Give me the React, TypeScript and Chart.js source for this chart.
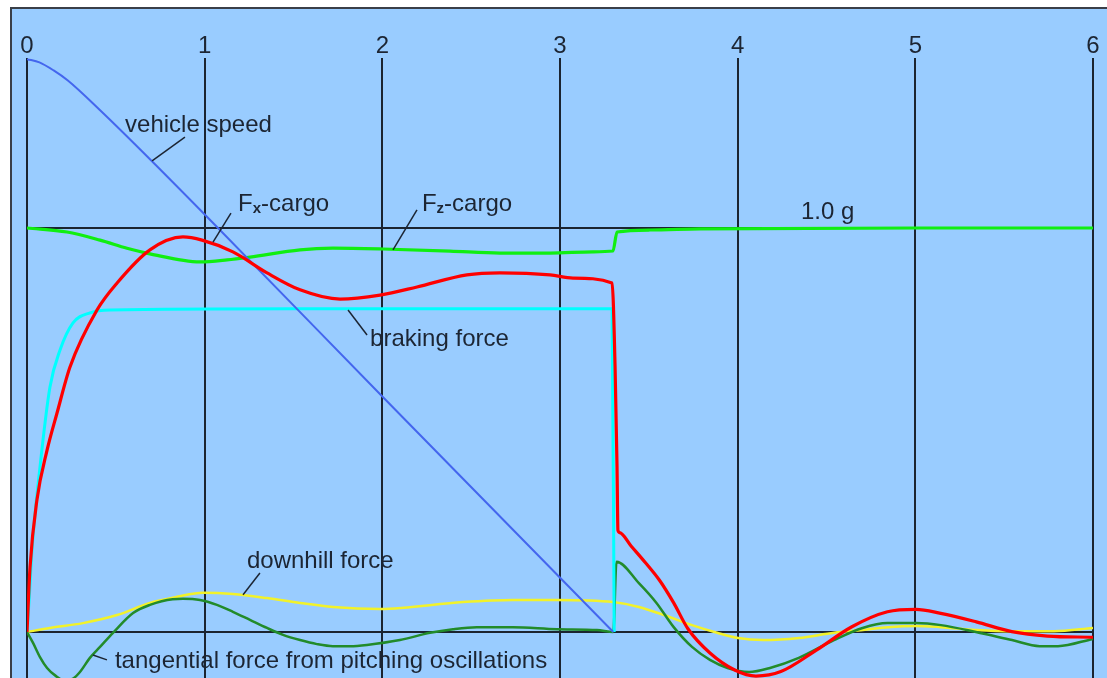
import React, { useEffect, useRef } from "react";
import { Chart, registerables } from "chart.js";

Chart.register(...registerables);

// ---- data (time in s, value in g) ----
const tickLabels = ["0", "1", "2", "3", "4", "5", "6"];
const refLines = [0, 1];

const speedT = [0, 0.07, 0.15, 0.23, 0.41, 0.64, 1.075, 2, 3.3];
const speedV = [1.418, 1.41, 1.39, 1.365, 1.292, 1.193, 1.0, 0.583, 0];

const brakeT = [0, 0.012, 0.028, 0.073, 0.129, 0.186, 0.259, 0.355, 0.467, 1.5, 3.293, 3.305];
const brakeV = [0, 0.08, 0.203, 0.408, 0.606, 0.698, 0.765, 0.79, 0.797, 0.8, 0.8, 0];

const fxT = [0, 0.017, 0.056, 0.113, 0.169, 0.242, 0.394, 0.507, 0.692, 0.878, 0.985, 1.159, 1.351, 1.537, 1.762, 1.987, 2.195, 2.476, 2.662, 2.944, 3.073, 3.293, 3.31, 3.321, 3.326, 3.336, 3.4, 3.48, 3.56, 3.64, 3.72, 3.844, 3.983, 4.103, 4.243, 4.443, 4.643, 4.843, 5.003, 5.143, 5.343, 5.543, 5.743, 6.0];
const fxV = [0, 0.16, 0.327, 0.45, 0.542, 0.656, 0.797, 0.864, 0.946, 0.978, 0.97, 0.941, 0.889, 0.847, 0.824, 0.834, 0.854, 0.884, 0.889, 0.884, 0.876, 0.864, 0.656, 0.408, 0.252, 0.246, 0.213, 0.172, 0.128, 0.072, 0.008, -0.052, -0.094, -0.109, -0.098, -0.045, 0.013, 0.05, 0.056, 0.046, 0.025, 0.001, -0.01, -0.013];

const fzT = [0, 0.225, 0.411, 0.563, 0.692, 0.974, 1.126, 1.255, 1.537, 1.722, 2.004, 2.381, 2.662, 2.944, 3.186, 3.298, 3.321, 3.506, 3.788, 5, 6];
const fzV = [1.0, 0.99, 0.97, 0.95, 0.936, 0.916, 0.921, 0.928, 0.946, 0.95, 0.948, 0.943, 0.938, 0.938, 0.941, 0.943, 0.99, 0.995, 0.998, 1.0, 1.0];

const downT = [0, 0.129, 0.315, 0.507, 0.692, 0.844, 0.991, 1.159, 1.351, 1.537, 1.722, 1.987, 2.454, 2.735, 2.983, 3.298, 3.444, 3.585, 3.743, 3.884, 4.002, 4.142, 4.345, 4.542, 4.705, 4.846, 5.004, 5.144, 5.341, 5.544, 5.78, 6.0];
const downV = [0, 0.01, 0.022, 0.042, 0.072, 0.087, 0.097, 0.094, 0.084, 0.072, 0.062, 0.057, 0.074, 0.079, 0.079, 0.074, 0.062, 0.042, 0.017, -0.002, -0.015, -0.02, -0.015, -0.002, 0.005, 0.012, 0.015, 0.012, 0.005, 0.002, 0.002, 0.01];

const pitchT = [0, 0.034, 0.073, 0.113, 0.16, 0.21, 0.26, 0.298, 0.354, 0.411, 0.484, 0.597, 0.692, 0.82, 0.878, 0.974, 1.069, 1.159, 1.255, 1.351, 1.441, 1.537, 1.632, 1.722, 1.818, 1.913, 2.099, 2.268, 2.398, 2.532, 2.735, 2.983, 3.208, 3.3, 3.318, 3.444, 3.543, 3.64, 3.743, 3.844, 3.943, 4.064, 4.182, 4.344, 4.542, 4.703, 4.843, 5.004, 5.144, 5.341, 5.544, 5.7, 5.803, 6.0];
const pitchV = [0, -0.027, -0.062, -0.089, -0.108, -0.12, -0.115, -0.099, -0.064, -0.037, -0.002, 0.047, 0.067, 0.081, 0.082, 0.079, 0.067, 0.05, 0.03, 0.01, -0.007, -0.02, -0.03, -0.035, -0.035, -0.032, -0.02, -0.002, 0.007, 0.012, 0.012, 0.007, 0.005, 0, 0.174, 0.121, 0.072, 0.012, -0.037, -0.069, -0.089, -0.099, -0.089, -0.064, -0.02, 0.01, 0.022, 0.022, 0.017, 0, -0.02, -0.035, -0.035, -0.017];

// ---- labels (anchored in data coordinates) ----
type Part = { t: string; sub?: boolean };
const notes: { parts: Part[]; x: number; y: number; leader?: number[][] }[] = [
  { parts: [{ t: "vehicle speed" }], x: 0.552, y: 1.257, leader: [[0.704, 1.166], [0.889, 1.225]] },
  { parts: [{ t: "F" }, { t: "x", sub: true }, { t: "-cargo" }], x: 1.188, y: 1.061, leader: [[1.047, 0.965], [1.148, 1.037]] },
  { parts: [{ t: "F" }, { t: "z", sub: true }, { t: "-cargo" }], x: 2.223, y: 1.061, leader: [[2.06, 0.946], [2.195, 1.045]] },
  { parts: [{ t: "1.0 g" }], x: 4.356, y: 1.042 },
  { parts: [{ t: "braking force" }], x: 1.931, y: 0.728, leader: [[1.807, 0.797], [1.914, 0.735]] },
  { parts: [{ t: "downhill force" }], x: 1.238, y: 0.178, leader: [[1.311, 0.146], [1.216, 0.092]] },
  { parts: [{ t: "tangential force from pitching oscillations" }], x: 0.495, y: -0.069, leader: [[0.371, -0.057], [0.45, -0.069]] },
];

const TEXT = "#1c2533";
const FONT = '"Liberation Sans", Arial, sans-serif';

const pts = (t: number[], v: number[]) => t.map((x, i) => ({ x, y: v[i] }));

const notesPlugin = {
  id: "notes",
  afterDatasetsDraw(chart: any) {
    const { ctx, scales } = chart;
    const xs = scales.x;
    const ys = scales.y;
    ctx.save();
    ctx.strokeStyle = TEXT;
    ctx.fillStyle = TEXT;
    ctx.lineWidth = 1.5;
    for (const n of notes) {
      if (n.leader) {
        ctx.beginPath();
        n.leader.forEach((p, i) => {
          const px = xs.getPixelForValue(p[0]);
          const py = ys.getPixelForValue(p[1]);
          if (i === 0) ctx.moveTo(px, py);
          else ctx.lineTo(px, py);
        });
        ctx.stroke();
      }
      let px = xs.getPixelForValue(n.x);
      const py = ys.getPixelForValue(n.y);
      ctx.textAlign = "left";
      ctx.textBaseline = "alphabetic";
      for (const p of n.parts) {
        ctx.font = p.sub ? `bold 15px ${FONT}` : `24px ${FONT}`;
        ctx.fillText(p.t, px, py + (p.sub ? 10 : 8));
        px += ctx.measureText(p.t).width;
      }
    }
    ctx.restore();
  },
};

export default function App() {
  const ref = useRef<HTMLCanvasElement | null>(null);
  useEffect(() => {
    if (!ref.current) return;
    const common = { pointRadius: 0, borderJoinStyle: "round", cubicInterpolationMode: "monotone", fill: false };
    const chart = new Chart(ref.current, {
      type: "line",
      data: {
        datasets: [
          { label: "Fx-cargo", data: pts(fxT, fxV), borderColor: "#ff0000", borderWidth: 3.2, order: 1, ...common },
          { label: "vehicle speed", data: pts(speedT, speedV), borderColor: "#4466ee", borderWidth: 2, order: 2, ...common },
          { label: "Fz-cargo", data: pts(fzT, fzV), borderColor: "#11ee11", borderWidth: 3.2, order: 3, ...common },
          { label: "braking force", data: pts(brakeT, brakeV), borderColor: "#00ffff", borderWidth: 3, order: 4, ...common },
          { label: "tangential force", data: pts(pitchT, pitchV), borderColor: "#228b2a", borderWidth: 2.5, order: 5, ...common },
          { label: "downhill force", data: pts(downT, downV), borderColor: "#f2f22a", borderWidth: 2.5, order: 6, ...common },
        ] as any,
      },
      options: {
        animation: false,
        responsive: false,
        maintainAspectRatio: false,
        layout: { padding: { left: 27, right: 14, top: 25, bottom: 0 } },
        plugins: { legend: { display: false }, tooltip: { enabled: false } },
        scales: {
          x: {
            type: "linear",
            position: "top",
            min: 0,
            max: 6,
            afterFit: (s: any) => { s.height = 33; },
            ticks: {
              stepSize: 1,
              padding: -3,
              color: TEXT,
              font: { family: FONT, size: 24 },
              callback: (v: any) => tickLabels[Math.round(v)] ?? "",
            },
            grid: { color: "#1b2430", lineWidth: 2, drawTicks: false },
            border: { display: false },
          },
          y: {
            type: "linear",
            min: -0.1708,
            max: 1.4208,
            z: 1,
            afterFit: (s: any) => { s.width = 0; },
            afterBuildTicks: (s: any) => { s.ticks = refLines.map((v) => ({ value: v })); },
            ticks: { display: false },
            grid: { color: "#1b2430", lineWidth: 2, drawTicks: false },
            border: { display: false },
          },
        },
      } as any,
      plugins: [notesPlugin],
    });
    return () => chart.destroy();
  }, []);

  return (
    <div style={{ position: "fixed", left: 0, top: 0, width: 1107, height: 678, overflow: "hidden", background: "#ffffff" }}>
      <div
        style={{
          position: "absolute",
          left: 10,
          top: 7,
          width: 1110,
          height: 700,
          background: "#99ccff",
          borderLeft: "2px solid #3a3f48",
          borderTop: "2px solid #3a3f48",
        }}
      />
      <canvas ref={ref} width={1107} height={701} style={{ position: "absolute", left: 0, top: 0, width: 1107, height: 701 }} />
    </div>
  );
}
